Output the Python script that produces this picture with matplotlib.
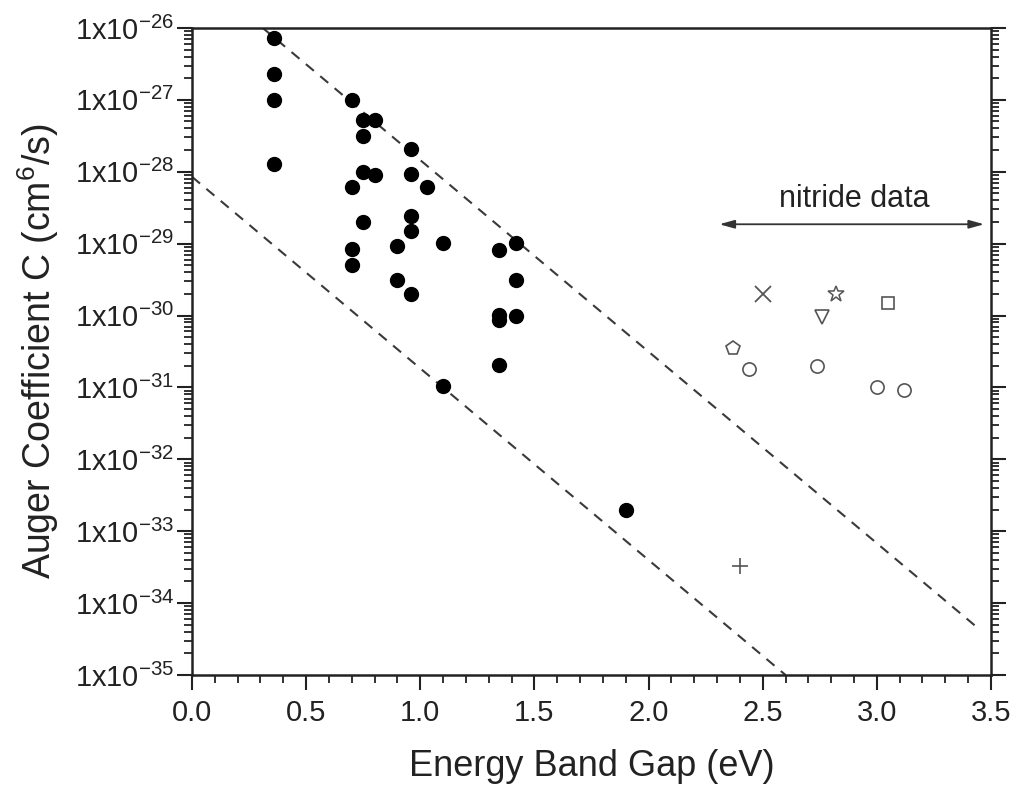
import matplotlib
matplotlib.use("Agg")
import matplotlib.pyplot as plt
from matplotlib.ticker import LogLocator, FixedLocator, MultipleLocator, FuncFormatter, NullFormatter
import numpy as np

plt.rcParams['font.family'] = ['Liberation Sans', 'DejaVu Sans']
plt.rcParams['mathtext.default'] = 'regular'

# ---- data ----
filled_gap = [0.36, 0.36, 0.36, 0.36,
              0.70, 0.70, 0.70, 0.70,
              0.75, 0.75, 0.75, 0.75,
              0.80, 0.80,
              0.90, 0.90,
              0.96, 0.96, 0.96, 0.96, 0.96,
              1.03,
              1.10, 1.10,
              1.345, 1.345, 1.345, 1.345,
              1.42, 1.42, 1.42,
              1.90]
filled_C = [7.2e-27, 2.3e-27, 1.0e-27, 1.3e-28,
            1.0e-27, 6.1e-29, 8.3e-30, 5.1e-30,
            5.2e-28, 3.1e-28, 1.0e-28, 2.0e-29,
            5.2e-28, 9.1e-29,
            9.3e-30, 3.1e-30,
            2.06e-28, 9.2e-29, 2.4e-29, 1.5e-29, 2.0e-30,
            6.1e-29,
            1.02e-29, 1.05e-31,
            8.1e-30, 1.03e-30, 8.7e-31, 2.05e-31,
            1.02e-29, 3.1e-30, 1.0e-30,
            2.0e-33]

circle_gap = [2.44, 2.74, 3.00, 3.12]
circle_C = [1.82e-31, 2.0e-31, 1.02e-31, 9.3e-32]

cross_gap, cross_C = [2.50], [2.0e-30]
star_gap, star_C = [2.82], [2.0e-30]
square_gap, square_C = [3.05], [1.5e-30]
tri_gap, tri_C = [2.76], [9.6e-31]
pent_gap, pent_C = [2.37], [3.5e-31]
plus_gap, plus_C = [2.40], [3.3e-34]

upper_line_gap = [0.31, 3.45]
upper_line_C = [1.0e-26, 4.3e-35]
lower_line_gap = [0.0, 2.60]
lower_line_C = [8.5e-29, 1.0e-35]

arrow_gap = [2.31, 3.47]
arrow_C = 1.86e-29

x_ticks = [0.0, 0.5, 1.0, 1.5, 2.0, 2.5, 3.0, 3.5]
y_exponents = [-26, -27, -28, -29, -30, -31, -32, -33, -34, -35]

# ---- figure ----
fig = plt.figure(figsize=(10.23, 7.90), dpi=100)
ax = fig.add_axes([0.1877, 0.1456, 0.9687 - 0.1877, 0.9646 - 0.1456])

ax.set_yscale('log')
ax.set_xlim(0, 3.5)
ax.set_ylim(1e-35, 1e-26)

dash_col = '#3a3a3a'
ax.plot(upper_line_gap, upper_line_C, ls=(0, (5, 4)), color=dash_col, lw=1.5)
ax.plot(lower_line_gap, lower_line_C, ls=(0, (5, 4)), color=dash_col, lw=1.5)

ax.plot(filled_gap, filled_C, 'o', color='black', ms=10, mec='black', ls='none')

gcol = '#555555'
ax.plot(circle_gap, circle_C, 'o', mfc='none', mec=gcol, mew=1.2, ms=9.5, ls='none')
ax.plot(cross_gap, cross_C, 'x', color=gcol, mew=1.3, ms=11, ls='none')
ax.plot(star_gap, star_C, '*', mfc='none', mec=gcol, mew=1.1, ms=12, ls='none')
ax.plot(square_gap, square_C, 's', mfc='none', mec=gcol, mew=1.2, ms=8.5, ls='none')
ax.plot(tri_gap, tri_C, 'v', mfc='none', mec=gcol, mew=1.2, ms=10, ls='none')
ax.plot(pent_gap, pent_C, 'p', mfc='none', mec=gcol, mew=1.2, ms=10, ls='none')
ax.plot(plus_gap, plus_C, '+', color=gcol, mew=1.2, ms=11, ls='none')

ax.annotate('', xy=(arrow_gap[0], arrow_C), xytext=(arrow_gap[1], arrow_C),
            arrowprops=dict(arrowstyle='<|-|>,head_length=0.9,head_width=0.25',
                            color='#333333', lw=1.3, shrinkA=0, shrinkB=0))
ax.text(np.mean(arrow_gap) + 0.01, 4.2e-29, 'nitride data', ha='center', va='center',
        fontsize=22, color='#222222')

# ticks
ax.xaxis.set_major_locator(FixedLocator(x_ticks))
ax.xaxis.set_minor_locator(MultipleLocator(0.1))
ax.xaxis.set_major_formatter(FuncFormatter(lambda v, p: f'{v:.1f}'))
ax.yaxis.set_major_locator(FixedLocator([10.0 ** e for e in y_exponents]))
ax.yaxis.set_minor_locator(LogLocator(base=10, subs=np.arange(2, 10), numticks=30))
ax.yaxis.set_minor_formatter(NullFormatter())
ax.yaxis.set_major_formatter(FuncFormatter(
    lambda v, p: r'$1x10^{%d}$' % int(round(np.log10(v)))))

ax.tick_params(axis='both', which='major', direction='out', length=11, width=1.5,
               labelsize=21, colors='#222222')
ax.tick_params(axis='both', which='minor', direction='out', length=6, width=1.3,
               colors='#222222')
ax.tick_params(axis='y', which='both', left=True, right=True, pad=2)
ax.tick_params(axis='x', which='both', bottom=True, top=False, pad=6)

for s in ax.spines.values():
    s.set_linewidth(1.8)
    s.set_color('#222222')

ax.set_xlabel('Energy Band Gap (eV)', fontsize=26, color='#222222', labelpad=16)
ax.set_ylabel('Auger Coefficient C (cm$^{6}$/s)', fontsize=27, color='#222222', labelpad=10)

fig.savefig('out.png', dpi=100)
